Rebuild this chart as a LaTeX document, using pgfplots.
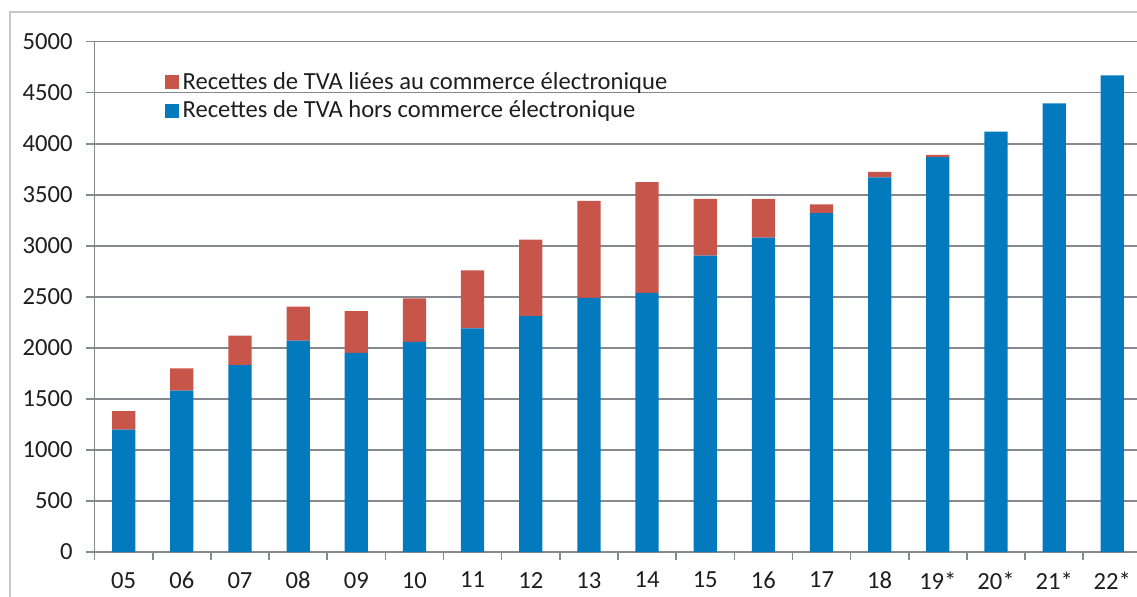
\documentclass[border=0pt]{standalone}
\usepackage{fontspec}
\setmainfont{Carlito}
\usepackage{pgfplots}
\pgfplotsset{compat=1.18}
\definecolor{bblue}{RGB}{3,121,190}
\definecolor{rred}{RGB}{199,85,74}
\definecolor{gridg}{RGB}{134,138,142}
\definecolor{txt}{RGB}{30,30,30}
\pgfplotsset{sq legend/.style={legend image code/.code={\fill[##1] (0pt,-3.4pt) rectangle (7pt,3.6pt);}}}
\begin{document}
\begin{tikzpicture}
\useasboundingbox (0,0) rectangle (568.5pt,298pt);
\draw[color=black!22, line width=0.9pt] (5pt,-10pt) -- (5pt,292pt) -- (600pt,292pt);
\begin{axis}[
  at={(47.3pt,22pt)}, anchor=south west, scale only axis,
  width=523.4pt, height=255.15pt,
  ybar stacked, bar width=0.4,
  xmin=-0.5, xmax=17.5, ymin=0, ymax=5000,
  axis x line*=bottom, axis y line*=left,
  axis line style={gridg, line width=0.75pt, -},
  ymajorgrids, grid style={gridg, line width=0.75pt},
  ytick={0,500,...,5000},
  xtick={0,...,17},
  xticklabels={05,06,07,08,09,10,11,12,13,14,15,16,17,18,19*,20*,21*,22*},
  major x tick style={draw=none},
  minor xtick={-0.5,0.5,...,17.5},
  minor tick length=4pt, major tick length=4.5pt,
  tick align=outside,
  tick style={gridg, line width=0.75pt},
  ticklabel style={font=\fontsize{12.3}{14}\selectfont, text=txt},
  yticklabel style={xshift=-3pt},
  xticklabel style={yshift=-2pt},
  /pgf/number format/assume math mode=true,
  /pgf/number format/1000 sep={},
  legend style={at={(0.0665,0.948)}, anchor=north west, draw=none, fill=none,
    font=\fontsize{12.3}{14}\selectfont, text=txt, row sep=0pt, inner sep=0pt},
  legend cell align=left,
  reverse legend,
]
\addplot[fill=bblue, draw=none, sq legend] coordinates {
(0,1200) (1,1580) (2,1830) (3,2070) (4,1950) (5,2060) (6,2190) (7,2310) (8,2490)
(9,2540) (10,2905) (11,3080) (12,3320) (13,3670) (14,3870) (15,4120) (16,4395) (17,4670)};
\addplot[fill=rred, draw=none, sq legend] coordinates {
(0,180) (1,220) (2,290) (3,335) (4,410) (5,425) (6,570) (7,750) (8,950)
(9,1085) (10,555) (11,380) (12,85) (13,55) (14,20) (15,0) (16,0) (17,0)};
\legend{Recettes de TVA hors commerce électronique, Recettes de TVA liées au commerce électronique}
\end{axis}
\end{tikzpicture}
\end{document}
